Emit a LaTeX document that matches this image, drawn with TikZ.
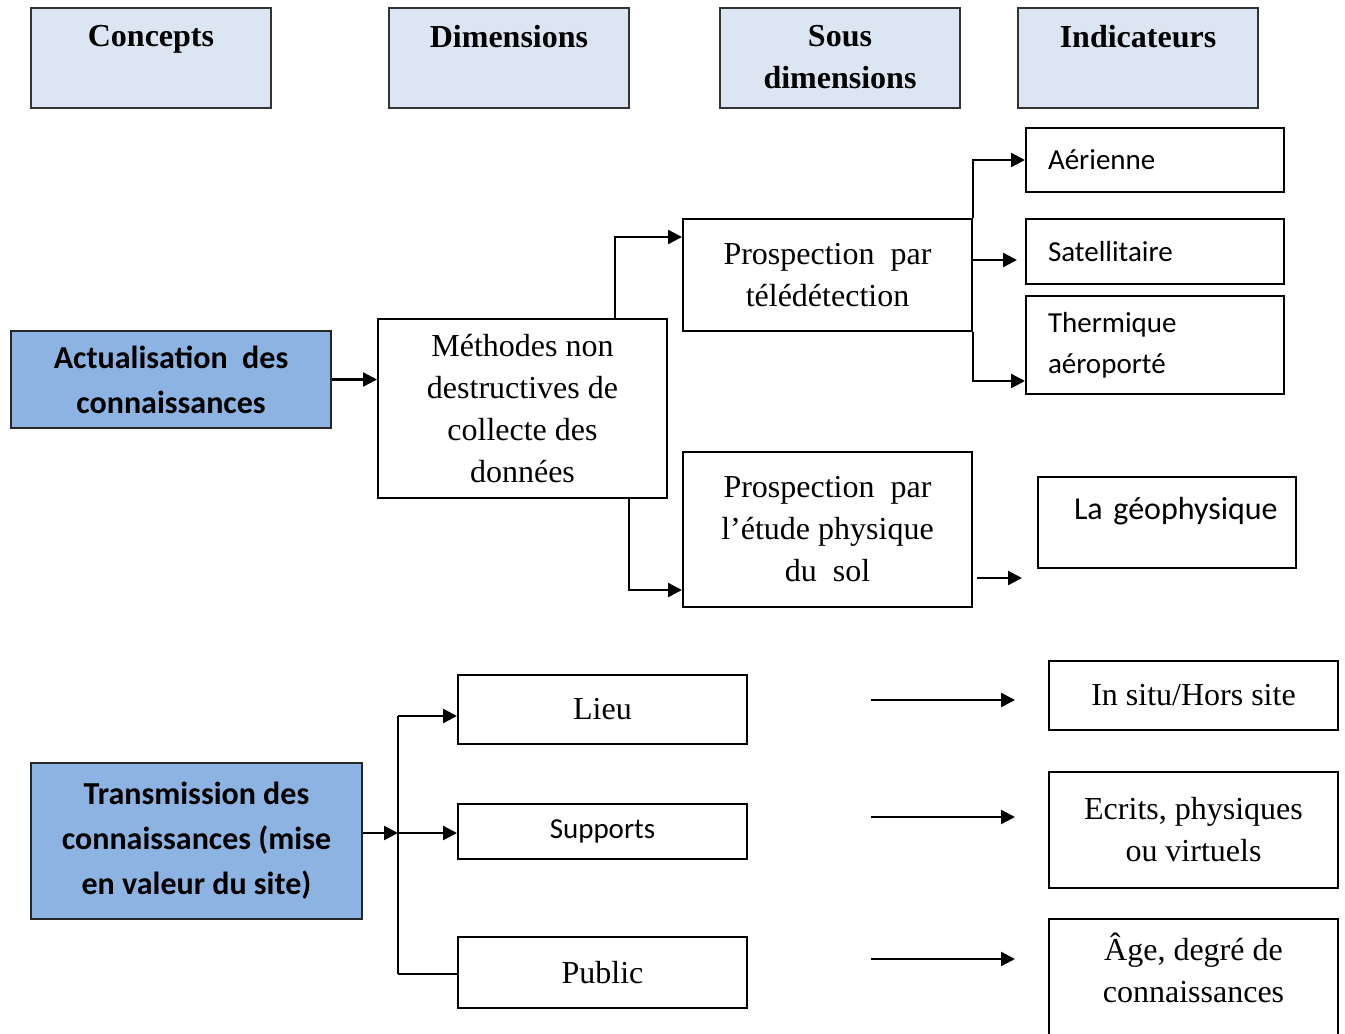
\documentclass[tikz,border=0pt]{standalone}
\usepackage{fontspec}
\setmainfont{Liberation Serif}
\newfontfamily\calibri{Carlito}
\usetikzlibrary{arrows.meta,positioning}
\definecolor{hdrblue}{HTML}{DCE6F2}
\definecolor{conblue}{HTML}{8DB3E2}
\newcommand{\bodyfont}{\fontsize{16}{21}\selectfont}
\newcommand{\smallcal}{\calibri\fontsize{14.5}{20.5}\selectfont}
\tikzset{
  hdrbox/.style = {rectangle, draw=black!80, line width=1pt, fill=hdrblue, anchor=north west, minimum width=120pt, minimum height=50pt, inner sep=0pt},
  hdrtext/.style = {align=center, inner sep=0pt, font=\bodyfont\bfseries},
  conbox/.style = {rectangle, draw=black!85, line width=1pt, fill=conblue, anchor=north west, align=center, inner sep=0pt, font=\calibri\fontsize{16}{22.5}\selectfont\bfseries},
  dimbox/.style = {rectangle, draw, line width=1pt, anchor=north west, align=center, inner sep=0pt, minimum width=144.5pt, font=\bodyfont},
  indbox/.style = {rectangle, draw, line width=1pt, anchor=north west, align=left, inner xsep=11pt, inner ysep=0pt, text width=107pt, font=\smallcal},
  myarrow/.style = {-{Triangle[length=7pt,width=7pt]}, line width=1.2pt},
  myline/.style = {line width=1.2pt},
}
\begin{document}
\begin{tikzpicture}[x=0.5pt,y=-0.5pt]
\useasboundingbox (0,0) rectangle (1345,1034);
\clip (0,0) rectangle (1345,1034);
% header row
\node[hdrbox] (hconc) at (30,7) {};
\node[hdrbox] (hdim) at (388,7) {};
\node[hdrbox] (hsous) at (719,7) {};
\node[hdrbox] (hind) at (1017,7) {};
\node[hdrtext, below=9pt of hconc.north] (tconc) {Concepts};
\node[hdrtext, below=9pt of hdim.north] (tdim) {Dimensions};
\node[hdrtext, below=9pt of hsous.north] (tsous) {Sous\\dimensions};
\node[hdrtext, below=9pt of hind.north] (tind) {Indicateurs};
% concepts
\node[conbox, minimum width=160pt, minimum height=48.5pt] (actu) at (10,330) {Actualisation~~des\\connaissances};
\node[conbox, minimum width=165.5pt, minimum height=78pt] (trans) at (30,762) {Transmission des\\connaissances (mise\\en valeur du site)};
% dimensions
\node[dimbox, minimum height=89.5pt] (meth) at (377,318) {Méthodes non\\destructives de\\collecte des\\données};
\node[dimbox, minimum height=34.5pt] (lieu) at (457,674) {Lieu};
\node[dimbox, minimum height=27.5pt, font=\smallcal] (supp) at (457,803) {Supports};
\node[dimbox, minimum height=35.5pt] (pub) at (457,936) {Public};
% sous dimensions
\node[dimbox, minimum height=56pt] (tele) at (682,218) {Prospection~~par\\télédétection};
\node[dimbox, minimum height=77.5pt] (phys) at (682,451) {Prospection~~par\\l’étude physique\\du~~sol};
% indicateurs
\node[indbox, minimum height=32pt] (aer) at (1025,127) {Aérienne};
\node[indbox, minimum height=32.5pt] (sat) at (1025,218) {Satellitaire};
\node[indbox, minimum height=49pt] (therm) at (1025,295) {Thermique\\aéroporté};
\node[indbox, inner xsep=0pt, text width=129pt, text height=21pt, text depth=24.5pt, font=\calibri\fontsize{16}{20}\selectfont] (geo) at (1037,476) {\hspace*{18pt}La géophysique};
\node[dimbox, minimum height=34.5pt] (insitu) at (1048,660) {In situ/Hors site};
\node[dimbox, minimum height=58pt] (ecr) at (1048,771) {Ecrits, physiques\\ou virtuels};
\node[dimbox, minimum height=71pt] (age) at (1048,918) {};
\node[below=7.5pt of age.north, align=center, inner sep=0pt, font=\bodyfont] (tage) {Âge, degré de\\connaissances};
% connectors
\coordinate (j1) at (615,237);
\coordinate (j2) at (629,590);
\coordinate (j3) at (971,260);
\coordinate (j4) at (971,381);
\coordinate (j5) at (977,578);
\coordinate (b1) at (398,716);
\coordinate (b2) at (398,833);
\coordinate (b3) at (398,974);
\coordinate (r1) at (871,700);
\coordinate (r2) at (871,817);
\coordinate (r3) at (871,959);
\draw[myarrow] (actu.east) -- (meth.west |- actu.east);
\draw[myarrow] (meth.north -| j1) |- (tele.west |- j1);
\draw[myarrow] (meth.south -| j2) |- (phys.west |- j2);
\draw[myarrow] (tele.north east) |- (aer.west);
\draw[myarrow, shorten >=4pt] (j3) -- (sat.west |- j3);
\draw[myarrow] (tele.south east) |- (therm.west |- j4);
\draw[myarrow, shorten >=7.5pt] (j5) -- (geo.west |- j5);
\draw[myarrow] (trans.east |- b2) -- (b2);
\draw[myline] (b1) -- (b3);
\draw[myarrow] (b1) -- (lieu.west |- b1);
\draw[myarrow] (b2) -- (supp.west |- b2);
\draw[myline] (b3) -- (pub.west |- b3);
\draw[myarrow, shorten >=16.5pt] (r1) -- (insitu.west |- r1);
\draw[myarrow, shorten >=16.5pt] (r2) -- (ecr.west |- r2);
\draw[myarrow, shorten >=16.5pt] (r3) -- (age.west |- r3);
\end{tikzpicture}
\end{document}
